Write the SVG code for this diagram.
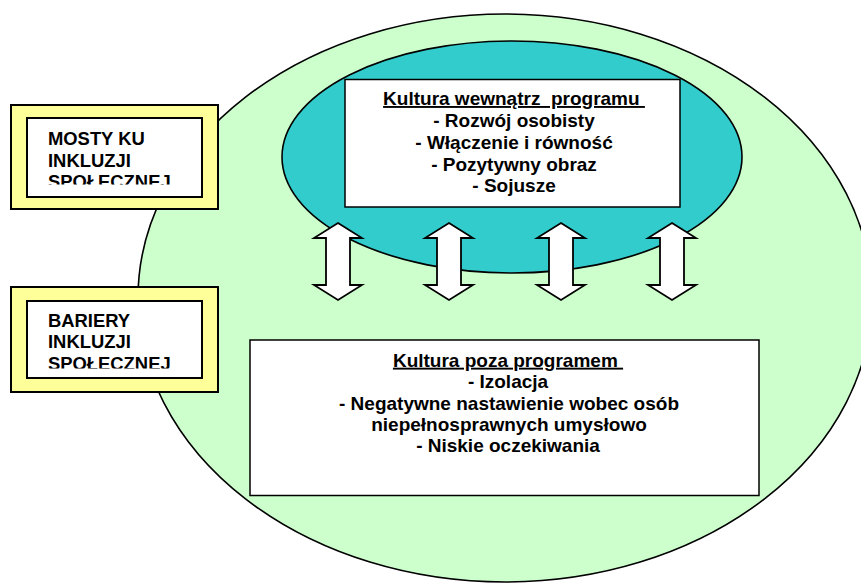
<svg xmlns="http://www.w3.org/2000/svg" width="861" height="583" viewBox="0 0 861 583">
<style>
.t{font-family:"Liberation Sans",Arial,sans-serif;font-weight:bold;font-size:19px;fill:#000}
.s{font-size:18.4px}
.c{text-anchor:middle}
.ul{text-decoration:underline}
.box{fill:#fff;stroke:#000;stroke-width:1.5}
.yel{fill:#FFFF99;stroke:#000;stroke-width:2}
.inner{fill:#fff;stroke:#000;stroke-width:2}
.arr{fill:#fff;stroke:#000;stroke-width:1.8;stroke-linejoin:miter}
</style>
<defs>
<clipPath id="clipM"><rect x="28" y="119" width="173" height="65.5"/></clipPath>
<clipPath id="clipB"><rect x="28" y="302" width="173" height="66.5"/></clipPath>
<path id="dbl" d="M0,223 L24,238 L12,238 L12,285 L24,285 L0,300 L-24,285 L-12,285 L-12,238 L-24,238 Z"/>
</defs>
<rect width="861" height="583" fill="#fff"/>
<g id="outer-culture">
<ellipse cx="505" cy="298" rx="367" ry="284" fill="#CCFFCC" stroke="#000" stroke-width="1.6"/>
</g>
<g id="bridges">
<rect class="yel" x="11" y="105" width="207" height="104"/>
<rect class="inner" x="27" y="118" width="175" height="79"/>
<g clip-path="url(#clipM)">
<text class="t s" x="48" y="145">MOSTY KU</text>
<text class="t s" x="48" y="166.7">INKLUZJI</text>
<text class="t s" x="48" y="188.4">SPOŁECZNEJ</text>
</g>
</g>
<g id="barriers">
<rect class="yel" x="11" y="287" width="207" height="105"/>
<rect class="inner" x="27" y="301" width="175" height="77"/>
<g clip-path="url(#clipB)">
<text class="t s" x="48" y="326.7">BARIERY</text>
<text class="t s" x="48" y="348.4">INKLUZJI</text>
<text class="t s" x="48" y="370.1">SPOŁECZNEJ</text>
</g>
</g>
<g id="inner-culture">
<ellipse cx="512" cy="157" rx="230" ry="116" fill="#33CCCC" stroke="#000" stroke-width="1.6"/>
</g>
<g id="inside-box">
<rect class="box" x="345" y="79.5" width="335" height="127.5"/>
<text class="t c ul" x="514" y="105" xml:space="preserve">Kultura wewnątrz  programu </text>
<text class="t c" x="514" y="126.7">- Rozwój osobisty</text>
<text class="t c" x="514" y="148.9">- Włączenie i równość</text>
<text class="t c" x="514" y="170.6">- Pozytywny obraz</text>
<text class="t c" x="514" y="192">- Sojusze</text>
</g>
<g id="connectors">
<use href="#dbl" class="arr" x="338"/>
<use href="#dbl" class="arr" x="449"/>
<use href="#dbl" class="arr" x="561"/>
<use href="#dbl" class="arr" x="672"/>
</g>
<g id="outside-box">
<rect class="box" x="250" y="340" width="509" height="155.5"/>
<text class="t c ul" x="508" y="366.7" xml:space="preserve">Kultura poza programem </text>
<text class="t c" x="508" y="388.3">- Izolacja</text>
<text class="t c" x="509" y="409.8">- Negatywne nastawienie wobec osób</text>
<text class="t c" x="509" y="430.5">niepełnosprawnych umysłowo</text>
<text class="t c" x="508" y="451.8">- Niskie oczekiwania</text>
</g>
</svg>
